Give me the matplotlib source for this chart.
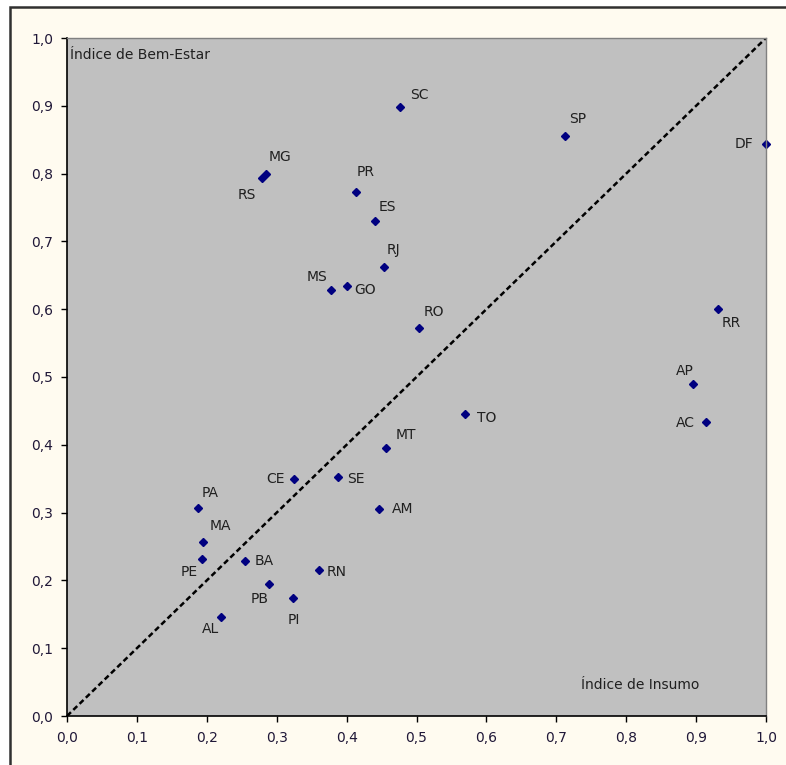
"""Índice de Bem-Estar vs Índice de Insumo por UF"""

import matplotlib
matplotlib.use('Agg')
import matplotlib.pyplot as plt
from matplotlib.patches import Rectangle

# data
ufs = ['SC', 'SP', 'DF', 'MG', 'RS', 'PR', 'ES', 'RJ', 'MS', 'GO', 'RO',
       'RR', 'AP', 'AC', 'TO', 'MT', 'CE', 'SE', 'AM', 'PA', 'MA', 'PE',
       'BA', 'RN', 'PB', 'PI', 'AL']
insumo = [0.476, 0.712, 1.000, 0.284, 0.279, 0.413, 0.440, 0.454, 0.378,
          0.401, 0.503, 0.932, 0.895, 0.914, 0.570, 0.456, 0.325, 0.387,
          0.446, 0.188, 0.195, 0.193, 0.255, 0.360, 0.289, 0.323, 0.220]
bem_estar = [0.898, 0.856, 0.844, 0.800, 0.794, 0.773, 0.730, 0.662, 0.628,
             0.634, 0.572, 0.600, 0.489, 0.433, 0.445, 0.395, 0.350, 0.352,
             0.305, 0.307, 0.257, 0.232, 0.229, 0.215, 0.194, 0.174, 0.146]

# label offsets in pixels (dx, dy, ha)
offsets = {
    'SC': (10, 12, 'left'), 'SP': (4, 17, 'left'), 'DF': (-13, 0, 'right'),
    'MG': (3, 17, 'left'), 'RS': (-6, -17, 'right'), 'PR': (1, 20, 'left'),
    'ES': (4, 14, 'left'), 'RJ': (2, 17, 'left'), 'MS': (-4, 13, 'right'),
    'GO': (7, -4, 'left'), 'RO': (5, 16, 'left'), 'RR': (3, -14, 'left'),
    'AP': (1, 13, 'right'), 'AC': (-11, -1, 'right'), 'TO': (12, -4, 'left'),
    'MT': (10, 13, 'left'), 'CE': (-9, 0, 'right'), 'SE': (10, -2, 'left'),
    'AM': (13, 0, 'left'), 'PA': (3, 15, 'left'), 'MA': (6, 16, 'left'),
    'PE': (-4, -13, 'right'), 'BA': (9, 0, 'left'), 'RN': (8, -2, 'left'),
    'PB': (0, -15, 'right'), 'PI': (1, -22, 'center'), 'AL': (-2, -12, 'right'),
}

ticks = [i / 10 for i in range(11)]
tick_labels = [f'{t:.1f}'.replace('.', ',') for t in ticks]

W, H = 786, 765
fig = plt.figure(figsize=(W / 100, H / 100), dpi=100)
fig.patch.set_facecolor('white')
frame = Rectangle((10 / W, -0.05), 1.1, 1 - 7 / H + 0.05,
                  transform=fig.transFigure, facecolor='#FFFBF0',
                  edgecolor='#303030', lw=1.8, zorder=-1)
fig.add_artist(frame)

ax = fig.add_axes([67 / W, 49 / H, 699 / W, 678 / H])
ax.set_facecolor('#C0C0C0')
ax.set_xlim(0, 1)
ax.set_ylim(0, 1)

ax.plot([0, 1], [0, 1], color='black', lw=1.8, ls=(0, (2.2, 1.3)))
ax.plot(insumo, bem_estar, 'D', color='#000080', ms=4.5, clip_on=False)

for uf, x, y in zip(ufs, insumo, bem_estar):
    dx, dy, ha = offsets[uf]
    ax.annotate(uf, (x, y), xytext=(dx, dy), textcoords='offset pixels',
                ha=ha, va='center', fontsize=10, color='#202020')

ax.text(0.005, 0.985, 'Índice de Bem-Estar', transform=ax.transAxes,
        ha='left', va='top', fontsize=10, color='#202020')
ax.text(0.735, 0.045, 'Índice de Insumo', transform=ax.transAxes,
        ha='left', va='center', fontsize=10, color='#202020')

ax.set_xticks(ticks)
ax.set_yticks(ticks)
ax.set_xticklabels(tick_labels, fontsize=10, color='#201838')
ax.set_yticklabels(tick_labels, fontsize=10, color='#201838')
ax.tick_params(direction='out', length=4, width=1)
ax.tick_params(axis='x', pad=7)
ax.tick_params(axis='y', pad=6)

for side in ['top', 'right']:
    ax.spines[side].set_color('#808080')
    ax.spines[side].set_linewidth(1)
for side in ['left', 'bottom']:
    ax.spines[side].set_color('black')
    ax.spines[side].set_linewidth(1.2)

fig.savefig('out.png', dpi=100)
